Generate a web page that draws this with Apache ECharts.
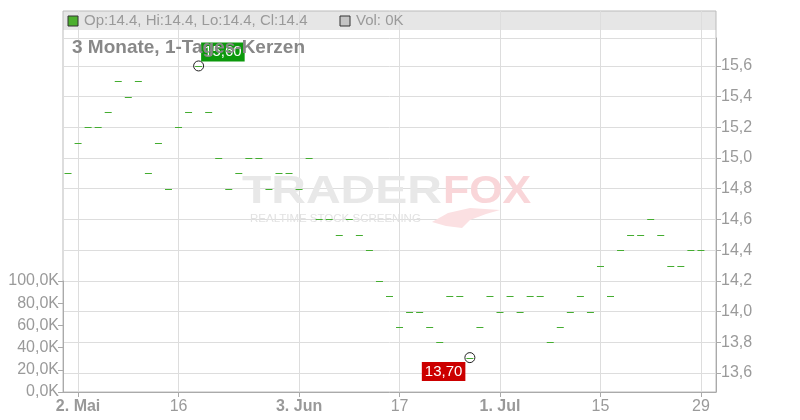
<!DOCTYPE html>
<html><head><meta charset="utf-8">
<script src="https://cdn.jsdelivr.net/npm/echarts@6/dist/echarts.min.js"></script>
<style>html,body{margin:0;padding:0;background:#fff}#c{width:800px;height:420px}</style>
</head><body><div id="c"></div>
<script>
const categories = [
 '2024-05-01','2024-05-02','2024-05-03','2024-05-06','2024-05-07','2024-05-08','2024-05-09','2024-05-10',
 '2024-05-13','2024-05-14','2024-05-15','2024-05-16','2024-05-17','2024-05-20','2024-05-21','2024-05-22',
 '2024-05-23','2024-05-24','2024-05-27','2024-05-28','2024-05-29','2024-05-30','2024-05-31',
 '2024-06-03','2024-06-04','2024-06-05','2024-06-06','2024-06-07','2024-06-10','2024-06-11','2024-06-12',
 '2024-06-13','2024-06-14','2024-06-17','2024-06-18','2024-06-19','2024-06-20','2024-06-21','2024-06-24',
 '2024-06-25','2024-06-26','2024-06-27','2024-06-28',
 '2024-07-01','2024-07-02','2024-07-03','2024-07-04','2024-07-05','2024-07-08','2024-07-09','2024-07-10',
 '2024-07-11','2024-07-12','2024-07-15','2024-07-16','2024-07-17','2024-07-18','2024-07-19','2024-07-22',
 '2024-07-23','2024-07-24','2024-07-25','2024-07-26','2024-07-29','2024-07-30'
];
const closes = [
 14.9,15.1,15.2,15.2,15.3,15.5,15.4,15.5,14.9,15.1,14.8,15.2,15.3,15.6,15.3,15.0,
 14.8,14.9,15.0,15.0,14.8,14.9,14.9,14.8,15.0,14.6,14.6,14.5,14.6,14.5,14.4,14.2,
 14.1,13.9,14.0,14.0,13.9,13.8,14.1,14.1,13.7,13.9,14.1,14.0,14.1,14.0,14.1,14.1,
 13.8,13.9,14.0,14.1,14.0,14.3,14.1,14.4,14.5,14.5,14.6,14.5,14.3,14.3,14.4,14.4
];
const volumes = [
 0,0,0,0,0,0,0,0,0,0,0,0,0,0,0,0,0,0,0,0,0,0,0,0,0,0,0,0,0,0,0,0,
 0,0,0,0,0,0,0,0,0,0,0,0,0,0,0,0,0,0,0,0,0,0,0,0,0,0,0,0,0,0,0,0
];
const tickDates = ['2024-05-02','2024-05-16','2024-06-03','2024-06-17','2024-07-01','2024-07-15','2024-07-29'];
const tickTexts = ['2. Mai','16','3. Jun','17','1. Jul','15','29'];
const tickBold  = [true,false,true,false,true,false,false];

const FONT = 'Liberation Sans, Arial, sans-serif';
const fmtDe = (v, d) => v.toFixed(d).replace('.', ',');
// [index, open, close, low, high] — open = close = low = high for these flat daily candles
const candleData = closes.map((v, i) => [i, v, v, v, v]);
const volData = categories.map((c, i) => i < volumes.length ? volumes[i] : '-');
const hi = Math.max(...closes), lo = Math.min(...closes);
const hiIdx = closes.indexOf(hi), loIdx = closes.indexOf(lo);
const last = closes[closes.length - 1];
const lastVol = volumes[volumes.length - 1];
const isTick = (i, v) => tickDates.indexOf(v) >= 0;
const GREEN = '#44ad30';

function renderCandle(params, api) {
  const i = api.value(0);
  const pO = api.coord([i, api.value(1)]);
  const pC = api.coord([i, api.value(2)]);
  const pL = api.coord([i, api.value(3)]);
  const pH = api.coord([i, api.value(4)]);
  const x = pC[0];
  const half = 3.5;
  const children = [];
  const yTop = Math.min(pO[1], pC[1]), yBot = Math.max(pO[1], pC[1]);
  if (pH[1] < yTop) children.push({type: 'line', shape: {x1: x, y1: pH[1], x2: x, y2: yTop}, style: {stroke: GREEN, lineWidth: 1}});
  if (pL[1] > yBot) children.push({type: 'line', shape: {x1: x, y1: yBot, x2: x, y2: pL[1]}, style: {stroke: GREEN, lineWidth: 1}});
  if (yBot - yTop < 1) {
    const y = Math.round(yTop) + 0.5;
    children.push({type: 'line', shape: {x1: x - half, y1: y, x2: x + half, y2: y}, style: {stroke: GREEN, lineWidth: 1}});
  } else {
    children.push({type: 'rect', shape: {x: x - half, y: yTop, width: half * 2, height: yBot - yTop}, style: {fill: GREEN, stroke: GREEN}});
  }
  return {type: 'group', children};
}

const chart = echarts.init(document.getElementById('c'));
chart.setOption({
  animation: false,
  backgroundColor: '#fff',
  grid: [
    {left: 63, right: 84, top: 11, bottom: 28, show: true, borderColor: '#bbb', borderWidth: 1},
    {left: 63, right: 84, top: 38, bottom: 28},
    {left: 63, right: 84, top: 281, bottom: 28}
  ],
  xAxis: [
    {type: 'category', gridIndex: 0, data: categories, boundaryGap: true,
     axisLine: {show: true, lineStyle: {color: '#aaa'}},
     axisTick: {show: true, alignWithLabel: true, interval: isTick, length: 5, lineStyle: {color: '#aaa'}},
     splitLine: {show: true, alignWithLabel: true, interval: isTick, lineStyle: {color: '#ddd'}},
     axisLabel: {interval: isTick, margin: 7, fontFamily: FONT, fontSize: 16, color: '#9a9a9a',
       formatter: v => { const k = tickDates.indexOf(v); return k < 0 ? '' : (tickBold[k] ? '{b|' + tickTexts[k] + '}' : tickTexts[k]); },
       rich: {b: {fontWeight: 'bold', fontFamily: FONT, fontSize: 16, color: '#999'}}}
    },
    {type: 'category', gridIndex: 1, data: categories, boundaryGap: true, show: false},
    {type: 'category', gridIndex: 2, data: categories, boundaryGap: true, show: false}
  ],
  yAxis: [
    {type: 'value', gridIndex: 0, show: false, min: 0, max: 1},
    {type: 'value', gridIndex: 1, position: 'right', min: 13.476, max: 15.782, splitNumber: 12,
     axisLine: {show: true, lineStyle: {color: '#aaa'}},
     axisTick: {show: true, length: 5, lineStyle: {color: '#aaa'}},
     splitLine: {show: true, lineStyle: {color: '#ddd'}},
     axisLabel: {showMinLabel: false, showMaxLabel: false, margin: 5, fontFamily: FONT, fontSize: 16, color: '#9a9a9a',
       formatter: v => fmtDe(v, 1)}
    },
    {type: 'value', gridIndex: 2, position: 'left', min: 0, max: 100000, interval: 20000,
     axisLine: {show: true, lineStyle: {color: '#aaa'}},
     axisTick: {show: true, length: 5, lineStyle: {color: '#aaa'}},
     splitLine: {show: false},
     axisLabel: {margin: 4, fontFamily: FONT, fontSize: 16, color: '#9a9a9a',
       formatter: v => fmtDe(v / 1000, 1) + 'K'}
    }
  ],
  series: [
    {type: 'bar', xAxisIndex: 2, yAxisIndex: 2, data: volData, itemStyle: {color: '#ccc'}, barWidth: 7},
    {type: 'custom', xAxisIndex: 1, yAxisIndex: 1, data: candleData, z: 3, renderItem: renderCandle,
     encode: {x: 0, y: [1, 2, 3, 4]}},
    {type: 'scatter', xAxisIndex: 1, yAxisIndex: 1, z: 4, symbol: 'circle', symbolSize: 10,
     itemStyle: {color: 'rgba(255,255,255,0)', borderColor: '#222', borderWidth: 1, opacity: 1},
     data: [
       {value: [hiIdx, hi], label: {show: true, formatter: fmtDe(hi, 2), position: [8, -18], align: 'left', verticalAlign: 'top',
         backgroundColor: '#0c990c', color: '#fff', fontFamily: FONT, fontSize: 15, lineHeight: 15, padding: [2, 3]}},
       {value: [loIdx, lo], label: {show: true, formatter: fmtDe(lo, 2), position: [1, 10], align: 'right', verticalAlign: 'top',
         backgroundColor: '#cc0000', color: '#fff', fontFamily: FONT, fontSize: 15, lineHeight: 15, padding: [2, 3]}}
     ]}
  ],
  graphic: [
    {type: 'rect', z: -1, shape: {x: 63, y: 11, width: 653, height: 19}, style: {fill: '#e6e6e6'}},
    {type: 'rect', z: 10, shape: {x: 68, y: 16, width: 10, height: 10}, style: {fill: '#4caf2e', stroke: '#333', lineWidth: 1}},
    {type: 'text', z: 10, x: 84, y: 21, style: {text: 'Op:' + last + ', Hi:' + last + ', Lo:' + last + ', Cl:' + last,
      font: '15px ' + FONT, fill: '#9a9a9a', verticalAlign: 'middle'}},
    {type: 'rect', z: 10, shape: {x: 340, y: 16, width: 10, height: 10}, style: {fill: '#c4c4c4', stroke: '#333', lineWidth: 1}},
    {type: 'text', z: 10, x: 356, y: 21, style: {text: 'Vol: ' + lastVol + 'K', font: '15px ' + FONT, fill: '#9a9a9a', verticalAlign: 'middle'}},
    {type: 'text', z: 100, x: 72, y: 48, style: {text: '3 Monate, 1-Tages-Kerzen', font: 'bold 19px ' + FONT, fill: '#888', verticalAlign: 'middle'}},
    {type: 'text', z: 1, x: 242, y: 192, scaleX: 1.23, style: {text: 'TRADER', font: 'bold 39px ' + FONT, fill: '#e8e8e8', verticalAlign: 'middle'}},
    {type: 'text', z: 1, x: 443, y: 192, scaleX: 1.1, style: {text: 'FOX', font: 'bold 39px ' + FONT, fill: '#f9d6d9', verticalAlign: 'middle'}},
    {type: 'polygon', z: 1, shape: {points: [[432,222],[448,213],[470,208],[500,210],[486,214],[470,220],[462,228],[446,226]]}, style: {fill: '#fbe0e2'}},
    {type: 'text', z: 1, x: 250, y: 219, style: {text: 'REALTIME STOCK SCREENING', font: '11.5px ' + FONT, fill: '#e2e2e2', verticalAlign: 'middle'}}
  ]
});
</script></body></html>
